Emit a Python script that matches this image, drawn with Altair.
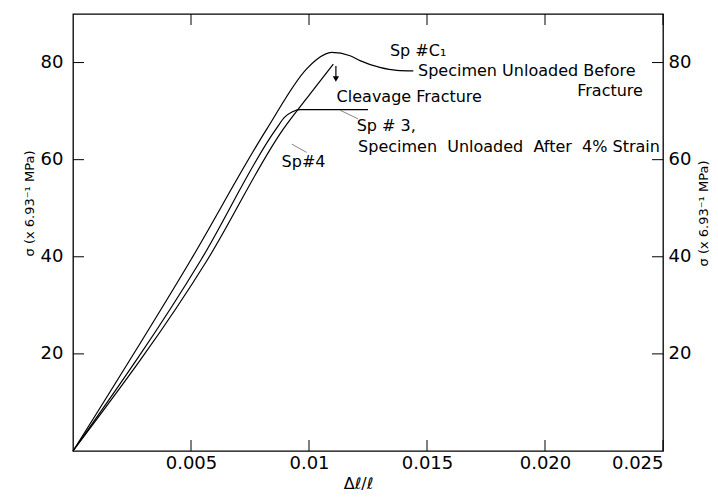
import altair as alt
import pandas as pd

# ---- data ----
c1_x = [0, 0.00501, 0.00821, 0.0099, 0.01034, 0.01096, 0.01174, 0.01216, 0.0130, 0.01372, 0.01442]
c1_y = [0, 39.5, 66.3, 78.7, 80.7, 82.1, 81.4, 80.4, 79.0, 78.4, 78.3]

sp3_x = [0, 0.00544, 0.0086, 0.00898, 0.00928, 0.00962, 0.0125]
sp3_y = [0, 39.5, 66.3, 68.8, 69.8, 70.3, 70.3]

sp4_x = [0, 0.00571, 0.00891, 0.01004, 0.01103]
sp4_y = [0, 39.5, 66.3, 73.5, 79.7]

x_tick_vals = [0.005, 0.01, 0.015, 0.020, 0.025]
x_tick_labels = ["0.005", "0.01", "0.015", "0.020", "0.025"]
y_tick_vals = [20, 40, 60, 80]

NB = "\u00a0"
ann_text = ["Sp #C\u2081", "Specimen Unloaded Before", "Cleavage Fracture",
            "Sp # 3,", "Specimen" + NB + " Unloaded" + NB + " After" + NB + " 4% Strain", "Sp#4"]
ann_x = [0.01343, 0.01462, 0.01117, 0.01202, 0.01208, 0.00884]
ann_y = [82.4, 78.3, 72.9, 67.0, 62.6, 59.5]

right_text = ["Fracture"]
right_x = [0.02415]
right_y = [74.1]

leader_x = [0.01208, 0.00990]
leader_x2 = [0.01131, 0.00927]
leader_y = [68.4, 61.5]
leader_y2 = [70.2, 63.2]

arrow_x = [0.01114]
arrow_y = [79.3]
arrow_y2 = [76.6]

# ---- build tables ----
rows = []
for name, xs, ys in [("C1", c1_x, c1_y), ("Sp3", sp3_x, sp3_y), ("Sp4", sp4_x, sp4_y)]:
    for i, (a, b) in enumerate(zip(xs, ys)):
        rows.append({"curve": name, "x": a, "y": b, "o": i})
curves = pd.DataFrame(rows)
ann = pd.DataFrame({"t": ann_text, "x": ann_x, "y": ann_y})
rann = pd.DataFrame({"t": right_text, "x": right_x, "y": right_y})
leaders = pd.DataFrame({"x": leader_x, "x2": leader_x2, "y": leader_y, "y2": leader_y2})
arrow = pd.DataFrame({"x": arrow_x, "y": arrow_y, "y2": arrow_y2})
xt = pd.DataFrame({"v": x_tick_vals})
yt = pd.DataFrame({"v": y_tick_vals})

W, H = 590, 437
TL = 11
FONT = "DejaVu Sans"
xs_ = alt.Scale(domain=[0, 0.025], nice=False, zero=False)
ys_ = alt.Scale(domain=[0, 90], nice=False, zero=False)

lab_expr = "[%s][indexof([%s], datum.value)]" % (
    ",".join("'%s'" % s for s in x_tick_labels), ",".join(str(v) for v in x_tick_vals))

common_axis = dict(ticks=False, domain=False, grid=False, labelFont=FONT, labelFontSize=18,
                   labelColor="black", titleFont=FONT, titleColor="black",
                   titleFontWeight="normal")

Y_TITLE = "\u03c3 (x 6.93\u207b\u00b9 MPa)"

x_bottom = alt.Axis(values=x_tick_vals, labelExpr=lab_expr, orient="bottom",
                    labelPadding=3, labelBaseline="top",
                    title="\u0394\u2113/\u2113", titleFontSize=16, titleX=285, titleY=32,
                    titleBaseline="middle", titleAlign="center", **common_axis)
y_left = alt.Axis(values=y_tick_vals, orient="left", labelPadding=10,
                  title=Y_TITLE, titleFontSize=13,
                  titleAngle=270, titleX=-44, titleY=189, titleBaseline="middle",
                  titleAlign="center", **common_axis)
y_right = alt.Axis(values=y_tick_vals, orient="right", labelPadding=5,
                   title=Y_TITLE, titleFontSize=13,
                   titleAngle=270, titleX=40, titleY=199, titleBaseline="middle",
                   titleAlign="center", **common_axis)

lines = alt.Chart(curves).mark_line(color="black", strokeWidth=1.2, interpolate="monotone").encode(
    x=alt.X("x:Q", scale=xs_, axis=x_bottom),
    y=alt.Y("y:Q", scale=ys_, axis=y_left),
    detail="curve:N",
    order="o:Q",
)

axes2 = alt.Chart(pd.DataFrame({"x": [0.0], "y": [0.0]})).mark_point(opacity=0).encode(
    x=alt.X("x:Q", scale=xs_, axis=None),
    y=alt.Y("y:Q", scale=ys_, axis=y_right),
)

tick_b = alt.Chart(xt).mark_rule(color="black", strokeWidth=1).encode(
    x=alt.X("v:Q", scale=xs_, axis=None), y=alt.value(H), y2=alt.value(H - TL))
tick_t = alt.Chart(xt).mark_rule(color="black", strokeWidth=1).encode(
    x=alt.X("v:Q", scale=xs_, axis=None), y=alt.value(0), y2=alt.value(TL))
tick_l = alt.Chart(yt).mark_rule(color="black", strokeWidth=1).encode(
    y=alt.Y("v:Q", scale=ys_, axis=None), x=alt.value(0), x2=alt.value(TL))
tick_r = alt.Chart(yt).mark_rule(color="black", strokeWidth=1).encode(
    y=alt.Y("v:Q", scale=ys_, axis=None), x=alt.value(W), x2=alt.value(W - TL))

texts = alt.Chart(ann).mark_text(align="left", baseline="middle", font=FONT,
                                 fontSize=16, color="black").encode(
    x=alt.X("x:Q", scale=xs_, axis=None),
    y=alt.Y("y:Q", scale=ys_, axis=None),
    text="t:N",
)
rtexts = alt.Chart(rann).mark_text(align="right", baseline="middle", font=FONT,
                                   fontSize=16, color="black").encode(
    x=alt.X("x:Q", scale=xs_, axis=None),
    y=alt.Y("y:Q", scale=ys_, axis=None),
    text="t:N",
)
lead = alt.Chart(leaders).mark_rule(color="#666666", strokeWidth=0.8).encode(
    x=alt.X("x:Q", scale=xs_, axis=None), x2="x2:Q",
    y=alt.Y("y:Q", scale=ys_, axis=None), y2="y2:Q",
)
arr_shaft = alt.Chart(arrow).mark_rule(color="black", strokeWidth=1.2).encode(
    x=alt.X("x:Q", scale=xs_, axis=None),
    y=alt.Y("y:Q", scale=ys_, axis=None), y2="y2:Q",
)
arr_head = alt.Chart(arrow).mark_point(shape="triangle-down", filled=True, color="black",
                                       size=40, opacity=1).encode(
    x=alt.X("x:Q", scale=xs_, axis=None),
    y=alt.Y("y2:Q", scale=ys_, axis=None),
)

chart = alt.layer(lines, axes2, tick_b, tick_t, tick_l, tick_r, texts, rtexts, lead,
                  arr_shaft, arr_head).resolve_scale(
    x="independent", y="independent"
).properties(
    width=W, height=H,
    autosize=alt.AutoSizeParams(type="none"),
    padding={"left": 65, "top": 6, "right": 47, "bottom": 42},
    background="white",
).configure_view(stroke="black", strokeWidth=1.3)

chart.save("out.html", embed_options={"renderer": "svg", "actions": False})
